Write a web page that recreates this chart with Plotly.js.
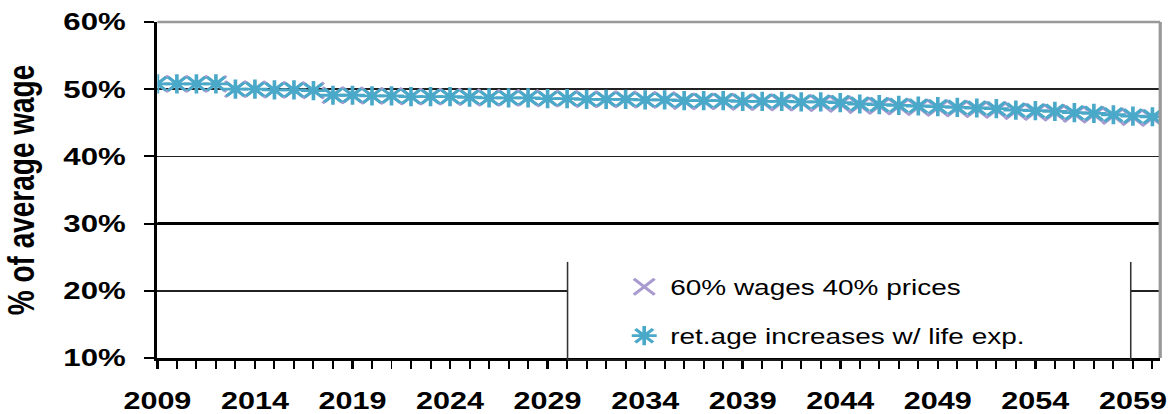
<!DOCTYPE html>
<html>
<head>
<meta charset="utf-8">
<script src="https://cdn.plot.ly/plotly-3.0.1.min.js"></script>
<style>
html,body{margin:0;padding:0;background:#fff;overflow:hidden;}
#wrap{width:898px;height:414px;transform:scaleX(1.3007);transform-origin:0 0;}
</style>
</head>
<body>
<div id="wrap"></div>
<script>
// Years (category axis)
const years = [2009,2010,2011,2012,2013,2014,2015,2016,2017,2018,2019,2020,2021,2022,2023,2024,2025,2026,2027,2028,2029,2030,2031,2032,2033,2034,2035,2036,2037,2038,2039,2040,2041,2042,2043,2044,2045,2046,2047,2048,2049,2050,2051,2052,2053,2054,2055,2056,2057,2058,2059,2060];

// Series: % of average wage
const wages60prices40 = [50.8,50.8,50.8,50.8,50.0,50.0,49.9,49.9,49.8,49.1,49.1,49.0,49.0,48.9,48.9,48.9,48.8,48.7,48.7,48.7,48.6,48.6,48.5,48.5,48.5,48.4,48.4,48.2,48.2,48.2,48.1,48.1,48.0,48.0,47.9,47.8,47.6,47.5,47.4,47.3,47.2,47.1,47.0,46.9,46.7,46.6,46.5,46.3,46.2,46.0,45.8,45.7];
const retAgeLifeExp = [50.8,50.8,50.8,50.8,50.0,50.0,49.9,49.9,49.8,49.1,49.1,49.0,49.0,48.9,48.9,48.9,48.8,48.7,48.7,48.7,48.6,48.6,48.5,48.5,48.5,48.4,48.4,48.3,48.3,48.3,48.2,48.2,48.2,48.1,48.1,48.0,47.8,47.7,47.6,47.5,47.4,47.3,47.2,47.1,46.9,46.8,46.7,46.5,46.4,46.2,46.0,45.9];

const seriesNames = ['60% wages 40% prices', 'ret.age increases w/ life exp.'];
const yTickVals = [10,20,30,40,50,60];
const yTickText = ['10%','20%','30%','40%','50%','60%'];
const emphasisLevel = 30;

const font = 'Liberation Sans, Arial, sans-serif';

const traces = [
  {
    x: years, y: wages60prices40, name: seriesNames[0], type: 'scatter', mode: 'markers',
    legendgroup: 'a',
    marker: {symbol: 'x-thin-open', size: 16, color: '#a99bd0', line: {color: '#a99bd0', width: 2.6}}
  },
  {
    x: years, y: retAgeLifeExp, name: seriesNames[1], type: 'scatter', mode: 'markers',
    legendgroup: 'b',
    marker: {symbol: 'asterisk-open', size: 16, color: '#4aa8c8', line: {color: '#4aa8c8', width: 2.8}}
  }
];

const legL = 0.409, legR = 0.9706, legT = 0.286;

const layout = {
  width: 898, height: 414,
  margin: {l: 121, r: 6, t: 22, b: 56},
  paper_bgcolor: '#fff', plot_bgcolor: '#fff',
  showlegend: true,
  font: {family: font, color: '#000'},
  xaxis: {
    range: [2009, 2060.4], tick0: 2009, dtick: 5,
    ticks: 'outside', ticklen: 8, tickwidth: 2, tickcolor: '#000',
    minor: {dtick: 1, ticks: 'outside', ticklen: 8, tickwidth: 1.5, tickcolor: '#000', showgrid: false},
    showgrid: false, zeroline: false,
    showline: true, linecolor: '#000', linewidth: 2.5,
    tickfont: {family: font, size: 23.5, weight: 'bold', color: '#000'},
    ticklabelstandoff: 12, ticklabeloverflow: 'allow'
  },
  yaxis: {
    range: [10, 60], tickvals: yTickVals, ticktext: yTickText,
    ticks: 'outside', ticklen: 8, tickwidth: 2, tickcolor: '#000',
    showgrid: true, gridcolor: '#222', gridwidth: 1.8, zeroline: false,
    showline: true, linecolor: '#000', linewidth: 2.5,
    tickfont: {family: font, size: 24, weight: 'bold', color: '#000'},
    ticklabelstandoff: 9,
    title: {text: '% of average wage', font: {family: font, size: 28, weight: 'bold', color: '#000'}, standoff: 14}
  },
  legend: {
    x: 0.4595, xanchor: 'left', y: 0.273, yanchor: 'top',
    bgcolor: 'rgba(255,255,255,0)', borderwidth: 0,
    font: {family: font, size: 21.5, color: '#000'},
    tracegroupgap: 18, traceorder: 'grouped'
  },
  shapes: [
    {type: 'line', xref: 'paper', yref: 'y', x0: 0, x1: 1, y0: emphasisLevel, y1: emphasisLevel, line: {color: '#000', width: 3}},
    {type: 'line', xref: 'paper', yref: 'paper', x0: 0, x1: 1, y0: 1, y1: 1, line: {color: '#999', width: 2.5}},
    {type: 'line', xref: 'paper', yref: 'paper', x0: 1, x1: 1, y0: 0, y1: 1, line: {color: '#999', width: 2.5}},
    {type: 'rect', xref: 'paper', yref: 'paper', x0: legL, x1: legR, y0: 0.012, y1: legT, fillcolor: '#fff', line: {width: 0}, layer: 'above'},
    {type: 'line', xref: 'paper', yref: 'paper', x0: legL, x1: legL, y0: -0.006, y1: legT, line: {color: '#333', width: 1.2}, layer: 'above'},
    {type: 'line', xref: 'paper', yref: 'paper', x0: legR, x1: legR, y0: -0.006, y1: legT, line: {color: '#333', width: 1.2}, layer: 'above'},
    {type: 'line', xref: 'paper', yref: 'paper', x0: legL, x1: legR, y0: -0.006, y1: -0.006, line: {color: '#333', width: 1.2}, layer: 'above'}
  ]
};

Plotly.newPlot('wrap', traces, layout, {staticPlot: true, displayModeBar: false});
</script>
</body>
</html>
